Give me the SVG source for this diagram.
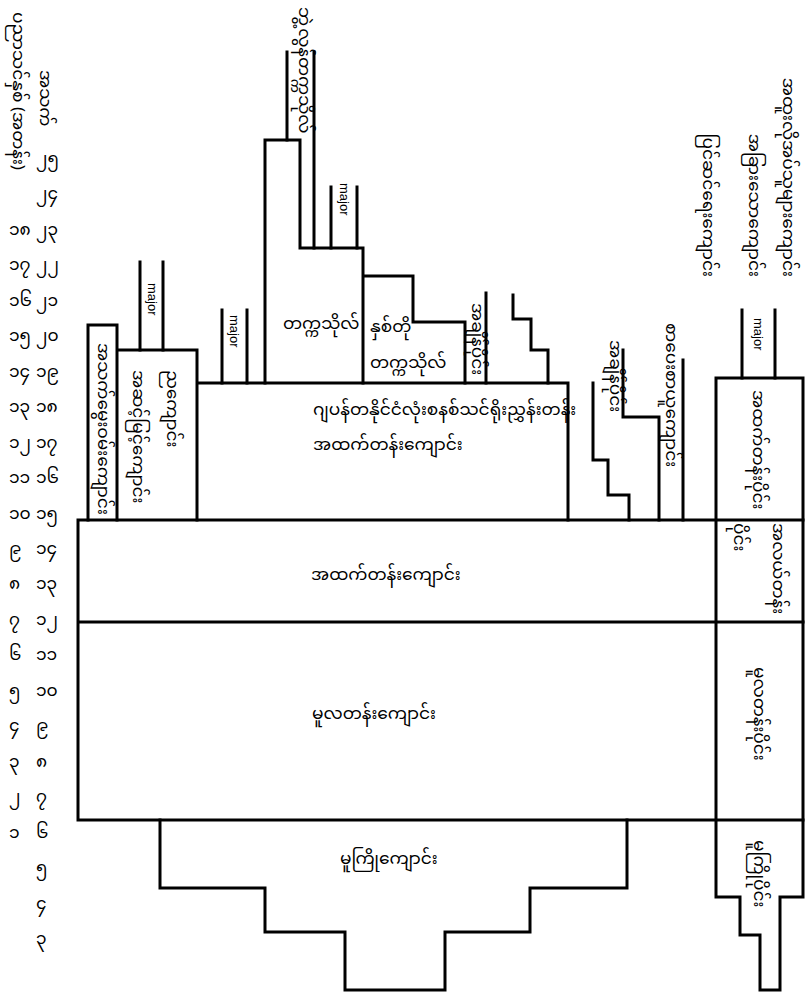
<svg xmlns="http://www.w3.org/2000/svg" width="805" height="996" viewBox="0 0 805 996">
<style>
.ln{fill:none;stroke:#000;stroke-width:3;stroke-linecap:square}
.my{font-family:'Noto Sans Myanmar','Padauk','Myanmar Text','Noto Sans',sans-serif;font-size:17px;fill:#000}
.lat{font-family:'Liberation Sans',Arial,sans-serif;font-size:13px;fill:#000}
.v{dominant-baseline:central}
</style>
<rect width="805" height="996" fill="#fff"/>
<g id="connectors">
<path class="ln" d="M78,520 H803 M78,622 H803 M78,820 H803 M78,520 V820"/>
<path class="ln" d="M716,378 H803 V897 H780 V990 H760 V935 H740 V897 H716 Z"/>
<path class="ln" d="M160,820 V888 H265 V932 H345 V990 H445 V932 H530 V888 H627 V820"/>
<path class="ln" d="M88,520 V325 H117 V520 M117,350 H197 V520 M197,383 H568 V520"/>
<path class="ln" d="M265,383 V140 H300 V248 H363 V383 M363,276 H413 V322 H465 V383"/>
<path class="ln" d="M287,52 V140 M314,52 V248 M331,187 V248 M357,187 V248"/>
<path class="ln" d="M140,262 V350 M163,262 V350 M222,310 V383 M247,310 V383 M742,310 V378 M775,310 V378"/>
<path class="ln" d="M486,293 V383 M513,295 V319 H531 V350 H548 V383"/>
<path class="ln" d="M593,383 V460 H608 V495 H629 V520 M623,350 V417 H659 V520 M683,360 V520"/>
</g>
<g id="axis">
<text class="my v" transform="translate(17,12) rotate(90)">ပညာသင်နှစ် (အတန်း)</text>
<text class="my v" transform="translate(44,70) rotate(90)">အသက်</text>
<g class="my v">
<text x="36" y="160">၂၅</text><text x="36" y="195">၂၄</text>
<text x="9" y="231">၁၈</text><text x="36" y="231">၂၃</text>
<text x="9" y="266">၁၇</text><text x="36" y="266">၂၂</text>
<text x="9" y="302">၁၆</text><text x="36" y="302">၂၁</text>
<text x="9" y="337">၁၅</text><text x="36" y="337">၂၀</text>
<text x="9" y="373">၁၄</text><text x="36" y="373">၁၉</text>
<text x="9" y="408">၁၃</text><text x="36" y="408">၁၈</text>
<text x="9" y="444">၁၂</text><text x="36" y="444">၁၇</text>
<text x="9" y="479">၁၁</text><text x="36" y="479">၁၆</text>
<text x="9" y="515">၁၀</text><text x="36" y="515">၁၅</text>
<text x="9" y="550">၉</text><text x="36" y="550">၁၄</text>
<text x="9" y="585">၈</text><text x="36" y="585">၁၃</text>
<text x="9" y="621">၇</text><text x="36" y="621">၁၂</text>
<text x="9" y="656">၆</text><text x="36" y="656">၁၁</text>
<text x="9" y="692">၅</text><text x="36" y="692">၁၀</text>
<text x="9" y="727">၄</text><text x="36" y="727">၉</text>
<text x="9" y="763">၃</text><text x="36" y="763">၈</text>
<text x="9" y="798">၂</text><text x="36" y="798">၇</text>
<text x="9" y="834">၁</text><text x="36" y="834">၆</text>
<text x="36" y="869">၅</text>
<text x="36" y="905">၄</text>
<text x="36" y="940">၃</text>
</g>
</g>
<g id="kindergarten"><text class="my v" x="340" y="860">မူကြိုကျောင်း</text></g>
<g id="primary"><text class="my v" x="312" y="715">မူလတန်းကျောင်း</text></g>
<g id="middle"><text class="my v" x="311" y="576">အထက်တန်းကျောင်း</text></g>
<g id="high"><text class="my v" x="313" y="411">ဂျပန်တနိုင်ငံလုံးစနစ်သင်ရိုးညွှန်းတန်း</text><text class="my v" x="313" y="446">အထက်တန်းကျောင်း</text></g>
<g id="university"><text class="my v" x="283" y="325">တက္ကသိုလ်</text><text class="lat v" transform="translate(344,183) rotate(90)">major</text></g>
<g id="graduate"><text class="my v" transform="translate(303,7) rotate(90)">ဘွဲ့လွန်တက္ကသိုလ်</text></g>
<g id="junior-college"><text class="my v" x="370" y="328">နှစ်တို</text><text class="my v" x="370" y="364">တက္ကသိုလ်</text></g>
<g id="narrow-box"><text class="my v" transform="translate(102,343) rotate(90)">အသက်မွေးဝမ်းကျောင်း</text></g>
<g id="box2"><text class="my v" transform="translate(171,370) rotate(90)">ညကျောင်း</text><text class="my v" transform="translate(137,370) rotate(90)">အဆင့်မြင့်ကျောင်း</text><text class="lat v" transform="translate(152,283) rotate(90)">major</text></g>
<g id="high-major"><text class="lat v" transform="translate(234,315) rotate(90)">major</text></g>
<g id="labelA"><text class="my v" transform="translate(476,303) rotate(90)">အချိန်ပိုင်း</text></g>
<g id="labelB"><text class="my v" transform="translate(614,340) rotate(90)">အချိန်ပိုင်း</text></g>
<g id="labelC"><text class="my v" transform="translate(670,323) rotate(90)">စာပေးစာယူကျောင်း</text></g>
<g id="special"><text class="lat v" transform="translate(758,318) rotate(90)">major</text>
<text class="my v" transform="translate(757,390) rotate(90)">အထက်တန်းပိုင်း</text>
<text class="my v" transform="translate(777,523) rotate(90)">အလယ်တန်း</text>
<text class="my v" transform="translate(738,523) rotate(90)">ပိုင်း</text>
<text class="my v" transform="translate(758,667) rotate(90)">မူလတန်းပိုင်း</text>
<text class="my v" transform="translate(758,840) rotate(90)">မူကြိုပိုင်း</text></g>
<g id="topright">
<text class="my v" text-anchor="end" transform="translate(707,277) rotate(90)">ပြင်ဆင်ရေးကျောင်း</text>
<text class="my v" text-anchor="end" transform="translate(753,277) rotate(90)">အခြားသောကျောင်း</text>
<text class="my v" text-anchor="end" transform="translate(787,277) rotate(90)">အထူးလိုအပ်သူများကျောင်း</text>
</g>
</svg>
